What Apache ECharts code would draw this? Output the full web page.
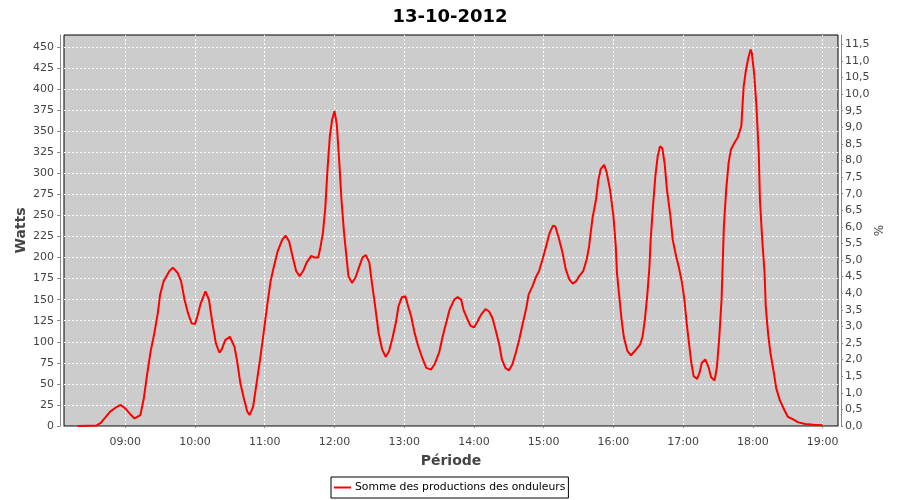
<!DOCTYPE html>
<html><head><meta charset="utf-8">
<script src="https://cdn.jsdelivr.net/npm/echarts@6/dist/echarts.min.js"></script>
<style>html,body{margin:0;padding:0;background:#fff}#c{width:900px;height:500px}</style>
</head><body><div id="c"></div>
<script>
const chartTitle = '13-10-2012';
const seriesName = 'Somme des productions des onduleurs';
const xAxisName = 'Période';
const leftAxisName = 'Watts';
const rightAxisName = '%';
const dayDate = [2012, 9, 13];
const xStart = '08:07:18';
const xEnd = '19:13:10';
const leftMax = 464.3;
const leftStep = 25;
const rightMax = 11.78;
const rightStep = 0.5;

const times = ['08:19','08:35','08:39','08:47','08:52','08:56','09:00','09:05','09:08','09:13','09:16','09:19','09:22','09:25','09:28','09:30','09:33','09:38','09:41','09:45','09:48','09:51','09:54','09:57','10:00','10:02','10:05','10:09','10:12','10:15','10:18','10:21','10:23','10:26','10:30','10:34','10:36','10:39','10:42','10:45','10:47','10:50','10:53','10:56','10:59','11:02','11:05','11:08','11:11','11:15','11:18','11:21','11:24','11:27','11:30','11:33','11:36','11:40','11:43','11:46','11:48','11:50','11:52','11:54','11:56','11:58','12:00','12:02','12:04','12:06','12:08','12:10','12:12','12:15','12:18','12:21','12:24','12:27','12:30','12:32','12:35','12:38','12:41','12:44','12:47','12:50','12:53','12:55','12:58','13:01','13:03','13:06','13:09','13:12','13:16','13:19','13:23','13:26','13:30','13:33','13:36','13:39','13:43','13:46','13:49','13:51','13:54','13:57','14:00','14:03','14:06','14:10','14:13','14:16','14:19','14:22','14:24','14:27','14:30','14:33','14:36','14:39','14:42','14:45','14:47','14:50','14:53','14:56','14:59','15:02','15:05','15:08','15:10','15:13','15:16','15:19','15:22','15:25','15:28','15:30','15:34','15:37','15:39','15:40','15:42','15:45','15:47','15:49','15:52','15:54','15:57','16:00','16:02','16:03','16:05','16:07','16:09','16:12','16:15','16:19','16:23','16:25','16:27','16:29','16:31','16:32','16:34','16:36','16:38','16:40','16:42','16:44','16:46','16:49','16:51','16:54','16:56','16:59','17:01','17:03','17:05','17:07','17:09','17:12','17:14','17:16','17:19','17:22','17:24','17:27','17:29','17:31','17:33','17:34','17:35','17:37','17:39','17:41','17:44','17:47','17:50','17:51','17:52','17:54','17:56','17:58','17:59','18:01','18:03','18:05','18:06','18:08','18:10','18:11','18:13','18:15','18:18','18:20','18:23','18:27','18:30','18:35','18:39','18:45','18:52','19:00'];
const watts = [0,0.5,3.6,17,22,25,21,13,9,13,33,63,90,110,134,156,172,184,188,182,172,150,134,122,121,130,146,160,150,122,98,87,91,102,106,94,79,51,33,17,13,23,51,79,110,142,172,190,207,221,226,219,201,184,178,184,194,202,200,200,213,229,257,305,344,364,374,358,316,269,233,205,178,170,176,188,200,203,194,172,142,110,91,82,89,105,124,142,153,154,144,130,110,95,79,69,67,73,87,106,122,138,150,153,150,138,128,119,117,124,132,139,136,128,112,95,79,69,66,73,87,103,122,140,156,165,176,184,198,213,229,238,237,223,207,186,174,169,172,177,184,198,213,225,247,269,292,305,310,302,281,249,213,182,154,126,105,89,84,90,97,106,126,154,190,221,261,296,320,332,330,312,281,249,221,201,190,170,150,122,98,75,59,56,63,75,79,69,58,54,70,105,150,194,237,281,312,328,336,343,356,380,403,423,437,447,443,419,380,324,269,221,182,142,110,87,63,45,31,19,11,7.5,4.3,2.3,1.5,1];

function ts(hm) {
  const p = hm.split(':').map(Number);
  return new Date(dayDate[0], dayDate[1], dayDate[2], p[0], p[1], p[2] || 0).getTime();
}
function pad(n) { return (n < 10 ? '0' : '') + n; }
const data = times.map((t, i) => [ts(t), watts[i]]);

const font = 'DejaVu Sans';
const axisGray = '#888888';
const labelColor = '#444444';
const gridLine = { show: true, showMinLine: false, showMaxLine: false, lineStyle: { color: '#ffffff', type: [2, 2], width: 1 } };

const chart = echarts.init(document.getElementById('c'), null, { renderer: 'canvas' });
chart.setOption({
  animation: false,
  backgroundColor: '#ffffff',
  title: {
    text: chartTitle, left: 'center', top: 3,
    textStyle: { fontFamily: font, fontSize: 18, fontWeight: 'bold', color: '#000' }
  },
  legend: {
    data: [seriesName], left: 331, top: 477,
    borderColor: '#000', borderWidth: 1, borderRadius: 0,
    padding: [5, 3, 5, 3], itemGap: 4,
    itemWidth: 17, itemHeight: 2, icon: 'rect',
    textStyle: { fontFamily: font, fontSize: 10.8, color: '#000', padding: [0, 0, 0, -1] }
  },
  grid: {
    left: 64, right: 62, top: 35, bottom: 74,
    show: true, backgroundColor: '#cccccc', borderColor: '#000000', borderWidth: 1
  },
  xAxis: {
    type: 'time', min: ts(xStart), max: ts(xEnd),
    splitNumber: 11, minInterval: 3600000, maxInterval: 3600000,
    offset: 4,
    axisLine: { show: true, lineStyle: { color: axisGray, width: 1 } },
    axisTick: { show: true, length: 2, lineStyle: { color: axisGray } },
    axisLabel: {
      showMinLabel: false, showMaxLabel: false, margin: 7,
      fontFamily: font, fontSize: 11, color: labelColor,
      formatter: v => { const d = new Date(v); return pad(d.getHours()) + ':' + pad(d.getMinutes()); }
    },
    splitLine: gridLine,
    name: xAxisName, nameLocation: 'middle', nameGap: 24, nameMoveOverlap: false,
    nameTextStyle: { fontFamily: font, fontSize: 14, fontWeight: 'bold', color: labelColor }
  },
  yAxis: [{
    type: 'value', min: 0, max: leftMax, interval: leftStep, position: 'left', offset: 4,
    axisLine: { show: true, lineStyle: { color: axisGray, width: 1 } },
    axisTick: { show: true, length: 3, lineStyle: { color: axisGray } },
    axisLabel: { showMaxLabel: false, margin: 6, fontFamily: font, fontSize: 11, color: labelColor },
    splitLine: gridLine,
    name: leftAxisName, nameLocation: 'middle', nameGap: 32, nameRotate: 90, nameMoveOverlap: false,
    nameTextStyle: { fontFamily: font, fontSize: 14, fontWeight: 'bold', color: labelColor }
  }, {
    type: 'value', min: 0, max: rightMax, interval: rightStep, position: 'right', offset: 3,
    axisLine: { show: true, lineStyle: { color: axisGray, width: 1 } },
    axisTick: { show: true, length: 2, lineStyle: { color: axisGray } },
    axisLabel: {
      showMaxLabel: false, margin: 4, fontFamily: font, fontSize: 11, color: labelColor,
      formatter: v => v.toFixed(1).replace('.', ',')
    },
    splitLine: { show: false },
    name: rightAxisName, nameLocation: 'middle', nameGap: 33, nameRotate: 90, nameMoveOverlap: false,
    nameTextStyle: { fontFamily: font, fontSize: 12, color: labelColor }
  }],
  series: [{
    name: seriesName, type: 'line', data: data, yAxisIndex: 0,
    symbol: 'none', showSymbol: false,
    lineStyle: { color: '#ff0000', width: 2 }, itemStyle: { color: '#ff0000' }
  }]
});
</script></body></html>
